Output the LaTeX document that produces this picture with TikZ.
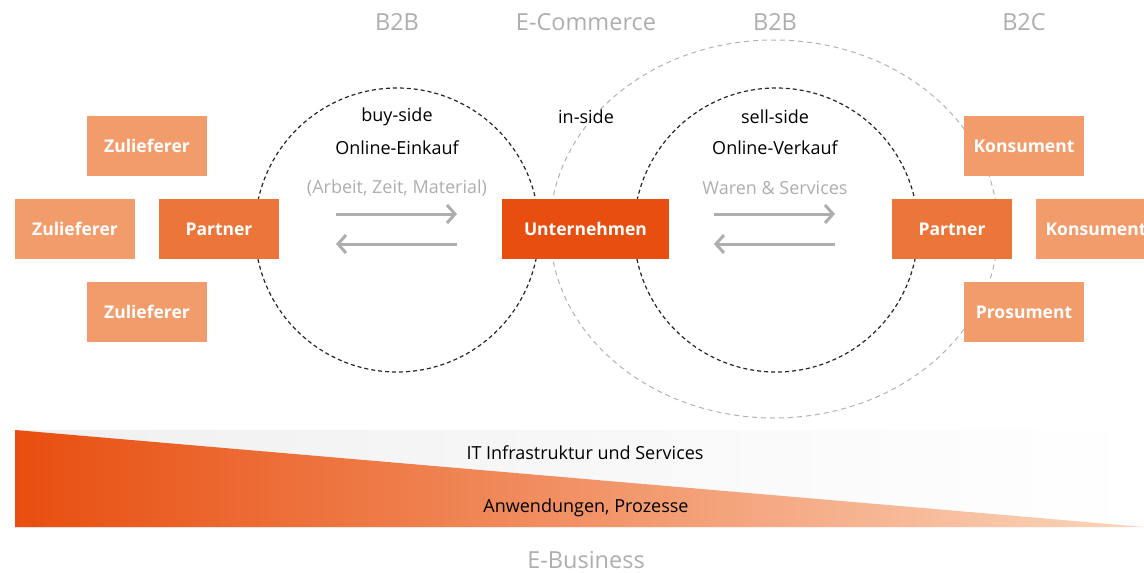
\documentclass[tikz,border=0pt]{standalone}
\usepackage{fontspec}
\setmainfont{Open Sans}
\usetikzlibrary{arrows.meta}
\definecolor{hell}{HTML}{F39C6B}
\definecolor{mittel}{HTML}{EC763A}
\definecolor{dunkel}{HTML}{E84E0F}
\definecolor{grau}{HTML}{AEAEAE}
\definecolor{blass}{HTML}{FBD6BC}
\tikzset{
    kasten/.style={fill=hell,text=white,font=\bfseries\fontsize{17.5}{20}\selectfont,minimum width=120pt,minimum height=60pt,inner sep=0pt},
    titel/.style={text=grau,font=\fontsize{23.5}{28}\selectfont},
    schrift/.style={font=\fontsize{18}{21}\selectfont},
    pfeil/.style={grau,line width=3pt,-{Straight Barb[length=8pt,width=18pt]}}
}
\begin{document}
\begin{tikzpicture}[x=1pt,y=-1pt]
                    \useasboundingbox (0,0) rectangle (1144,573);
                    \draw[gray!60,line width=1pt,dash pattern=on 5pt off 4pt] (774,229) ellipse[x radius=224,y radius=189];
                    \draw[black!85,line width=1.2pt,dash pattern=on 4pt off 3pt] (397,230) circle[radius=142];
                    \draw[black!85,line width=1.2pt,dash pattern=on 4pt off 3pt] (776,230) circle[radius=142];
                    \node[titel] (b2bl) at (397,22) {B2B};
                    \node[titel] (ecom) at (586,22) {E-Commerce};
                    \node[titel] (b2br) at (775,22) {B2B};
                    \node[titel] (b2c) at (1024,22) {B2C};
                    \node[schrift] (buy) at (397,117) {buy-side};
                    \node[schrift] (einkauf) at (397,148) {Online-Einkauf};
                    \node[schrift,text=grau] (material) at (397,188) {(Arbeit, Zeit, Material)};
                    \node[schrift] (in) at (586,117) {in-side};
                    \node[schrift] (sell) at (775,117) {sell-side};
                    \node[schrift] (verkauf) at (775,148) {Online-Verkauf};
                    \node[schrift,text=grau] (waren) at (775,188) {Waren \& Services};
                    \node[kasten] (zul1) at (147,146) {Zulieferer};
                    \node[kasten] (zul2) at (75,229) {Zulieferer};
                    \node[kasten] (zul3) at (147,312) {Zulieferer};
                    \node[kasten,fill=mittel] (partl) at (219,229) {Partner};
                    \node[kasten,fill=dunkel,minimum width=167pt] (unt) at (585.5,229) {Unternehmen};
                    \node[kasten,fill=mittel] (partr) at (952,229) {Partner};
                    \node[kasten] (kon1) at (1024,146) {Konsument};
                    \node[kasten] (kon2) at (1096,229) {Konsument};
                    \node[kasten] (pro) at (1024,312) {Prosument};
                    \coordinate (a1) at (336,214); \coordinate (a2) at (457,214);
                    \coordinate (a3) at (457,244); \coordinate (a4) at (336,244);
                    \coordinate (b1) at (714,214); \coordinate (b2) at (835,214);
                    \coordinate (b3) at (835,244); \coordinate (b4) at (714,244);
                    \draw[pfeil] (a1)--(a2);
                    \draw[pfeil] (a3)--(a4);
                    \draw[pfeil] (b1)--(b2);
                    \draw[pfeil] (b3)--(b4);
                    \shade[left color=black!6,right color=white] (15,430) rectangle (1144,527);
                    \shade[left color=dunkel,right color=blass] (15,430)--(1144,527)--(15,527)--cycle;
                    \node[schrift] (it) at (585,453) {IT Infrastruktur und Services};
                    \node[schrift] (anw) at (586,508) {Anwendungen, Prozesse};
                    \node[titel] (ebus) at (586,560) {E-Business};
                \end{tikzpicture}
\end{document}
